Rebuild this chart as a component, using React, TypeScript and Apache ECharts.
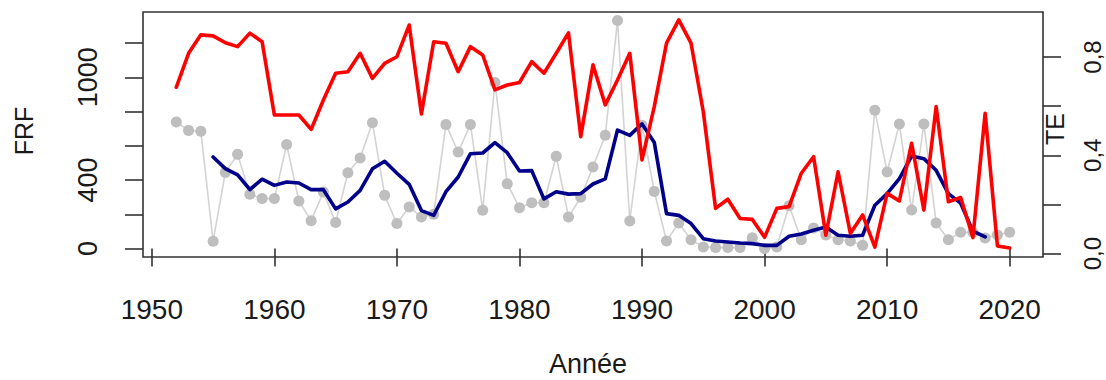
import React, { useEffect, useRef } from "react";
import * as echarts from "echarts";

const years: number[] = [
  1952, 1953, 1954, 1955, 1956, 1957, 1958, 1959, 1960, 1961, 1962, 1963, 1964, 1965, 1966, 1967, 1968, 1969,
  1970, 1971, 1972, 1973, 1974, 1975, 1976, 1977, 1978, 1979, 1980, 1981, 1982, 1983, 1984, 1985, 1986, 1987,
  1988, 1989, 1990, 1991, 1992, 1993, 1994, 1995, 1996, 1997, 1998, 1999, 2000, 2001, 2002, 2003, 2004, 2005,
  2006, 2007, 2008, 2009, 2010, 2011, 2012, 2013, 2014, 2015, 2016, 2017, 2018, 2019, 2020,
];

// FRF, annual values (grey points)
const frf: number[] = [
  739, 690, 685, 43, 445, 550, 317, 292, 292, 607, 278, 163, 330, 152, 443, 529, 735, 311,
  146, 243, 184, 200, 725, 564, 725, 224, 970, 379, 239, 268, 268, 539, 184, 300, 476, 661,
  1332, 161, 720, 334, 44, 150, 52, 10, 6, 6, 6, 64, 0, 10, 250, 52, 120, 80,
  52, 44, 19, 807, 447, 727, 225, 727, 150, 52, 95, 95, 62, 80, 95,
];

// FRF, moving average (blue line), 1955-2018
const maYears: number[] = [
  1955, 1956, 1957, 1958, 1959, 1960, 1961, 1962, 1963, 1964, 1965, 1966, 1967, 1968, 1969,
  1970, 1971, 1972, 1973, 1974, 1975, 1976, 1977, 1978, 1979, 1980, 1981, 1982, 1983, 1984, 1985, 1986, 1987,
  1988, 1989, 1990, 1991, 1992, 1993, 1994, 1995, 1996, 1997, 1998, 1999, 2000, 2001, 2002, 2003, 2004, 2005,
  2006, 2007, 2008, 2009, 2010, 2011, 2012, 2013, 2014, 2015, 2016, 2017, 2018,
];
const frfMA: number[] = [
  535, 467, 430, 345, 405, 369, 389, 383, 344, 344, 232, 272, 340, 466, 510,
  440, 375, 222, 194, 332, 418, 554, 558, 618, 560, 453, 455, 290, 332, 318, 321, 377, 407,
  692, 661, 728, 620, 204, 194, 146, 58, 44, 39, 33, 29, 19, 19, 72, 85, 107, 126,
  78, 72, 78, 253, 321, 409, 540, 525, 457, 321, 265, 102, 68,
];

// TE (red line, right axis)
const te: number[] = [
  0.677, 0.815, 0.89, 0.886, 0.858, 0.842, 0.897, 0.862, 0.564, 0.564, 0.564, 0.505, 0.625, 0.734, 0.74, 0.815, 0.713, 0.774,
  0.801, 0.93, 0.568, 0.862, 0.856, 0.74, 0.842, 0.808, 0.666, 0.686, 0.696, 0.781, 0.734, 0.815, 0.898, 0.476, 0.768, 0.605,
  0.706, 0.815, 0.381, 0.598, 0.856, 0.951, 0.856, 0.577, 0.184, 0.221, 0.143, 0.139, 0.066, 0.184, 0.191, 0.327, 0.394, 0.075,
  0.333, 0.082, 0.157, 0.026, 0.245, 0.214, 0.449, 0.177, 0.598, 0.211, 0.228, 0.065, 0.571, 0.031, 0.023,
];

const xTicks: number[] = [1950, 1960, 1970, 1980, 1990, 2000, 2010, 2020];
const leftTicks: number[] = [0, 200, 400, 600, 800, 1000, 1200];
const leftLabels: number[] = [0, 400, 1000];
const rightTicks: number[] = [0, 0.2, 0.4, 0.6, 0.8];
const rightLabels: number[] = [0, 0.4, 0.8];

const FONT = "'Liberation Sans', Arial, sans-serif";
const INK = "#1a1a1a";
const AXIS = "#333333";

export default function App() {
  const ref = useRef<HTMLDivElement>(null);

  useEffect(() => {
    if (!ref.current) return;
    const chart = echarts.init(ref.current, undefined, { renderer: "svg" });
    const option: any = {
      animation: false,
      backgroundColor: "#ffffff",
      grid: {
        left: 143,
        top: 12,
        width: 900,
        height: 245,
        show: true,
        borderColor: AXIS,
        borderWidth: 1.6,
        backgroundColor: "transparent",
        containLabel: false,
      },
      xAxis: {
        type: "value",
        min: 1949.28,
        max: 2022.72,
        axisLine: { show: false },
        splitLine: { show: false },
        axisTick: {
          show: true,
          length: 18,
          customValues: xTicks,
          lineStyle: { color: AXIS, width: 1.6 },
        },
        axisLabel: {
          customValues: xTicks,
          margin: 38,
          fontSize: 28,
          fontFamily: FONT,
          color: INK,
          formatter: (v: number) => String(v),
        },
      },
      yAxis: [
        {
          type: "value",
          position: "left",
          min: -49,
          max: 1381,
          axisLine: { show: false },
          splitLine: { show: false },
          axisTick: {
            show: true,
            length: 18,
            customValues: leftTicks,
            lineStyle: { color: AXIS, width: 1.6 },
          },
          axisLabel: {
            customValues: leftLabels,
            rotate: 90,
            margin: 42,
            fontSize: 27,
            fontFamily: FONT,
            color: INK,
            formatter: (v: number) => String(v),
          },
        },
        {
          type: "value",
          position: "right",
          min: -0.014,
          max: 0.983,
          axisLine: { show: false },
          splitLine: { show: false },
          axisTick: {
            show: true,
            length: 18,
            customValues: rightTicks,
            lineStyle: { color: AXIS, width: 1.6 },
          },
          axisLabel: {
            customValues: rightLabels,
            rotate: 90,
            margin: 37,
            fontSize: 24,
            fontFamily: FONT,
            color: INK,
            formatter: (v: number) => v.toFixed(1).replace(".", ","),
          },
        },
      ],
      graphic: [
        {
          type: "text",
          x: 24,
          y: 131,
          rotation: Math.PI / 2,
          style: { text: "FRF", fontSize: 25, fontFamily: FONT, fill: INK, align: "center", verticalAlign: "middle" },
        },
        {
          type: "text",
          x: 1055,
          y: 129,
          rotation: Math.PI / 2,
          style: { text: "TE", fontSize: 25, fontFamily: FONT, fill: INK, align: "center", verticalAlign: "middle" },
        },
        {
          type: "text",
          x: 588,
          y: 364,
          style: { text: "Année", fontSize: 27, fontFamily: FONT, fill: INK, align: "center", verticalAlign: "middle" },
        },
      ],
      series: [
        {
          name: "FRF",
          type: "line",
          xAxisIndex: 0,
          yAxisIndex: 0,
          data: years.map((y, i) => [y, frf[i]]),
          symbol: "circle",
          symbolSize: 11,
          showAllSymbol: true,
          lineStyle: { color: "#d3d3d3", width: 1.6 },
          itemStyle: { color: "#bebebe", borderWidth: 0 },
          z: 2,
        },
        {
          name: "FRF MA",
          type: "line",
          xAxisIndex: 0,
          yAxisIndex: 0,
          data: maYears.map((y, i) => [y, frfMA[i]]),
          symbol: "none",
          lineStyle: { color: "#00008b", width: 3.6, join: "round", cap: "round" },
          z: 3,
        },
        {
          name: "TE",
          type: "line",
          xAxisIndex: 0,
          yAxisIndex: 1,
          data: years.map((y, i) => [y, te[i]]),
          symbol: "none",
          lineStyle: { color: "#ff0000", width: 3.6, join: "round", cap: "round" },
          z: 4,
        },
      ],
    };
    chart.setOption(option);
    return () => chart.dispose();
  }, []);

  return (
    <div
      ref={ref}
      style={{ position: "absolute", left: 0, top: 0, width: 1106, height: 380, background: "#ffffff" }}
    />
  );
}
